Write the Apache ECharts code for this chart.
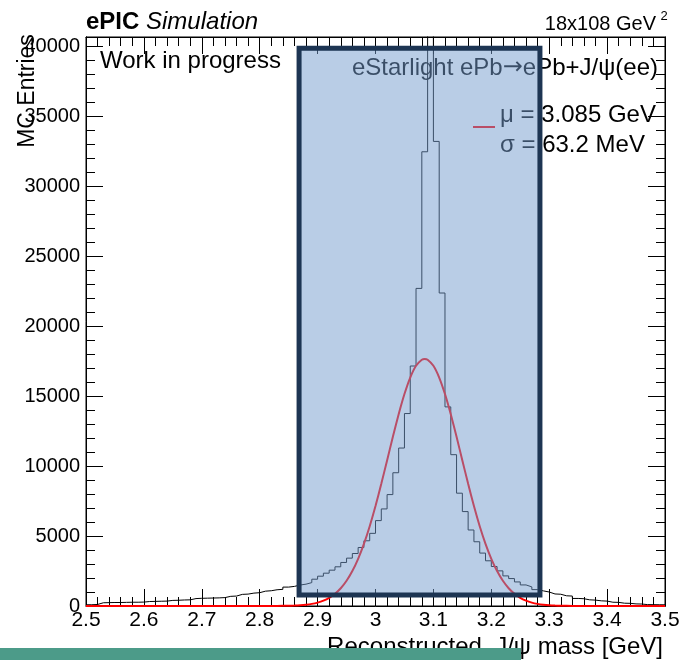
<!DOCTYPE html>
<html><head><meta charset="utf-8">
<script src="https://cdn.jsdelivr.net/npm/echarts@6/dist/echarts.min.js"></script>
<style>html,body{margin:0;padding:0;background:#fff}#c{width:680px;height:660px}</style>
</head><body><div id="c"></div>
<script>
// ---- data ----
const binStart = 2.5;
const binWidth = 0.01;
const counts = [
  90,110,230,240,250,250,260,270,270,280,
  320,330,340,350,400,410,430,440,530,550,
  560,570,580,600,690,710,830,850,920,950,
  1060,1090,1160,1190,1350,1400,1500,1560,1670,1915,
  2130,2345,2560,2800,3110,3420,3750,4180,4660,5190,
  6100,6935,7960,9520,11285,13750,17145,22690,32450,41500,
  33190,22360,14225,10810,8060,6745,5430,4590,3780,3230,
  2820,2510,2150,1960,1720,1505,1365,1170,1080,1000,
  860,840,730,710,540,520,440,420,370,350,
  270,260,200,190,150,140,100,95,90,85
];
const fitX = [2.50,2.80,2.83,2.85,2.86,2.87,2.88,2.89,2.90,2.91,2.92,2.93,2.94,2.95,2.96,2.97,2.98,2.99,
  3.00,3.01,3.02,3.03,3.04,3.05,3.06,3.07,3.08,3.085,3.09,3.10,3.11,3.12,3.13,3.14,3.15,3.16,3.17,3.18,3.19,
  3.20,3.21,3.22,3.23,3.24,3.25,3.26,3.27,3.28,3.29,3.30,3.31,3.32,3.34,3.37,3.50];
const fitY = [0,1,5,18,31,54,92,151,243,382,584,872,1270,1803,2496,3372,4440,5703,
  7144,8729,10401,12086,13699,15141,16322,17160,17595,17650,17595,17160,16322,15141,13699,12086,10401,8729,7144,5703,4440,
  3372,2496,1803,1270,872,584,382,243,151,92,54,31,18,6,1,0];
const xMin = 2.5, xMax = 3.5, xStep = 0.1;
const yMin = 0, yMax = 40650, yStep = 5000, yMinorStep = 1000;
const boxX = [2.868, 3.284];
const boxY = [786, 39843];

const FONT = '"Liberation Sans", Arial, Helvetica, sans-serif';
const histData = counts.map((v, i) => [+(binStart + i * binWidth).toFixed(2), v]);
histData.push([xMax, counts[counts.length - 1]]);
const fitData = fitX.map((x, i) => [x, fitY[i]]);

const chart = echarts.init(document.getElementById('c'), null, {renderer: 'canvas'});
const black = '#000';
function xAx(pos, labels) {
  return {
    type: 'value', min: xMin, max: xMax, interval: xStep, position: pos,
    axisLine: {show: true, onZero: false, lineStyle: {color: black, width: 1}},
    axisTick: {show: true, inside: true, length: 17, lineStyle: {color: black, width: 1}},
    minorTick: {show: true, splitNumber: 5, length: 9, lineStyle: {color: black, width: 1}},
    axisLabel: {show: labels, color: black, fontFamily: FONT, fontSize: 21, margin: 4},
    splitLine: {show: false}, minorSplitLine: {show: false}
  };
}
function yAx(pos, step, len, labels) {
  return {
    type: 'value', min: yMin, max: yMax, interval: step, position: pos,
    axisLine: {show: true, onZero: false, lineStyle: {color: black, width: 1}},
    axisTick: {show: true, inside: true, length: len, lineStyle: {color: black, width: 1}},
    axisLabel: {show: labels, color: black, fontFamily: FONT, fontSize: 20, margin: 6,
      formatter: v => (v % yStep === 0 ? String(v) : '')},
    splitLine: {show: false}
  };
}
chart.setOption({
  animation: false,
  backgroundColor: '#fff',
  grid: {left: 86, right: 15, top: 37, bottom: 54, show: true, borderColor: black, borderWidth: 1,
    containLabel: false, outerBoundsMode: 'none'},
  xAxis: [xAx('bottom', true), xAx('top', false)],
  yAxis: [yAx('left', yStep, 17, true), yAx('left', yMinorStep, 9, false),
          yAx('right', yStep, 17, false), yAx('right', yMinorStep, 9, false)],
  series: [
    {type: 'line', name: 'MC', step: 'end', data: histData, symbol: 'none', xAxisIndex: 0, yAxisIndex: 0,
     lineStyle: {color: black, width: 1}, clip: true, z: 2, silent: true},
    {type: 'line', name: 'fit', data: fitData, symbol: 'none', xAxisIndex: 0, yAxisIndex: 0,
     smooth: 0.2, lineStyle: {color: '#ff0000', width: 2}, clip: false, z: 3, silent: true}
  ]
});

const p1 = chart.convertToPixel({xAxisIndex: 0, yAxisIndex: 0}, [boxX[0], boxY[1]]);
const p2 = chart.convertToPixel({xAxisIndex: 0, yAxisIndex: 0}, [boxX[1], boxY[0]]);

function txt(text, x, y, size, align, extra) {
  return {
    type: 'text', x: x, y: y, z: 10,
    style: Object.assign({text: text, font: size + 'px ' + FONT, fontFamily: FONT, fontSize: size, fill: black,
      align: align, textAlign: align, verticalAlign: 'middle', textVerticalAlign: 'middle'}, extra || {})
  };
}
chart.setOption({
  graphic: [
    {type: 'text', x: 86, y: 22, z: 10, style: {
      text: '{b|ePIC} {i|Simulation}', fill: black, align: 'left', verticalAlign: 'middle',
      textAlign: 'left', textVerticalAlign: 'middle', fontFamily: FONT, fontSize: 24,
      rich: {b: {fontWeight: 'bold', fontSize: 24, fontFamily: FONT, fill: black},
             i: {fontStyle: 'italic', fontSize: 24, fontFamily: FONT, fill: black}}}},
    txt('18x108 GeV', 656, 24, 20, 'right'),
    txt('2', 664, 16, 13, 'center'),
    txt('Work in progress', 100, 61, 24, 'left'),
    {type: 'text', x: 658, y: 68, z: 10, style: {
      text: '{a|eStarlight ePb}{r|\u2192}{a|ePb+J/\u03c8(ee)}', fill: black, align: 'right', verticalAlign: 'middle',
      textAlign: 'right', textVerticalAlign: 'middle', fontFamily: FONT, fontSize: 24,
      rich: {a: {fontSize: 24, fontFamily: FONT, fill: black},
             r: {fontSize: 24, fontFamily: '"DejaVu Sans", sans-serif', fill: black}}}},
    txt('\u03bc = 3.085 GeV', 500, 115, 24, 'left'),
    txt('\u03c3 = 63.2 MeV', 500, 145, 24, 'left'),
    {type: 'line', z: 10, shape: {x1: 473, y1: 127, x2: 495, y2: 127}, style: {stroke: '#ff0000', lineWidth: 2}},
    Object.assign(txt('MC Entries', 28, 91, 23, 'center'), {rotation: Math.PI / 2}),
    txt('Reconstructed  J/\u03c8 mass [GeV]', 663, 647, 24, 'right'),
    {type: 'rect', z: 50, shape: {x: p1[0], y: p1[1], width: p2[0] - p1[0], height: p2[1] - p1[1]},
     style: {fill: 'rgba(115,155,205,0.5)', stroke: '#1d3553', lineWidth: 5}},
    {type: 'rect', z: 60, shape: {x: 0, y: 648, width: 521, height: 12}, style: {fill: '#4c9b89'}}
  ]
});
</script></body></html>
